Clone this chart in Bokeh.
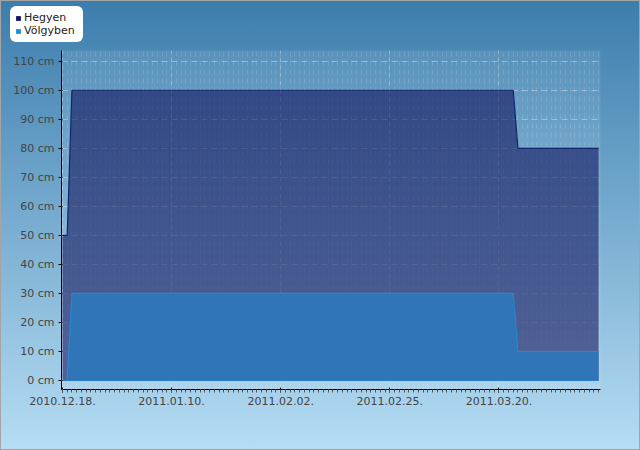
import pandas as pd
from bokeh.plotting import figure
from bokeh.models import (FixedTicker, DatetimeTickFormatter, PrintfTickFormatter,
                          Legend, LegendItem, Range1d, ColumnDataSource, BoxAnnotation, Grid)
from bokeh.embed import file_html
from bokeh.resources import INLINE

# ---- data ----
dates = ["2010-12-18", "2010-12-19", "2010-12-20", "2011-03-23", "2011-03-24", "2011-04-10"]
hegyen = [50, 50, 100, 100, 80, 80]
volgyben = [0, 0, 30, 30, 10, 10]
series_names = ["Hegyen", "Völgyben"]
tick_dates = ["2010-12-18", "2011-01-10", "2011-02-02", "2011-02-25", "2011-03-20"]
y_ticks = [0, 10, 20, 30, 40, 50, 60, 70, 80, 90, 100, 110]

x = pd.to_datetime(dates)
src = ColumnDataSource(dict(x=x, h=hegyen, v=volgyben, zero=[0] * len(dates)))

DAY = 86400000.0
t0 = pd.Timestamp(dates[0]).value / 1e6
major = [pd.Timestamp(d).value / 1e6 for d in tick_dates]
minor = [t0 + k * DAY for k in range(0, 114)]

# plot region (data units) and its pixel box inside the 640x450 canvas
XS, XE = t0 - 0.2 * DAY, t0 + 113.4 * DAY
YS, YE = -3.1, 113.7
PL, PR, PT, PB = 61, 600, 50, 389
W, H = 640, 450
kx = (XE - XS) / (PR - PL)
ky = (YE - YS) / (PB - PT)

p = figure(width=W, height=H, output_backend="svg", toolbar_location=None,
           x_axis_type="datetime",
           x_range=Range1d(XS - PL * kx, XE + (W - PR) * kx),
           y_range=Range1d(YS - (H - PB) * ky, YE + PT * ky),
           min_border=0)
p.title.visible = False

p.styles = {"background": "linear-gradient(to bottom, #3c7dad 0%, #b6ddf4 100%)",
            "box-shadow": "inset 0 0 0 1px #a4a4a4"}
p.border_fill_alpha = 0
p.background_fill_alpha = 0
p.outline_line_color = None

# plot-area tint
tint = BoxAnnotation(left=XS, right=XE, bottom=YS, top=YE, fill_color="white",
                     fill_alpha=0.09, line_color=None, level="underlay")
p.add_layout(tint)

# areas
p.varea(x="x", y1="zero", y2="h", source=src, fill_color="#0a0a55", fill_alpha=0.56)
p.line(x="x", y="h", source=src, line_color="#14246a", line_width=1.2)
p.varea(x="x", y1="zero", y2="v", source=src, fill_color="#2f76b8", fill_alpha=0.97)
p.line(x="x", y="v", source=src, line_color="#2a86d4", line_width=1.2)
p.line(x="x", y="zero", source=src, line_color="#2a80cc", line_width=1)

# axes
p.xaxis.ticker = FixedTicker(ticks=major, minor_ticks=minor)
fmt = "%Y.%m.%d."
p.xaxis.formatter = DatetimeTickFormatter(days=fmt, months=fmt, years=fmt, hours=fmt,
                                          minutes=fmt, seconds=fmt, milliseconds=fmt,
                                          microseconds=fmt, minsec=fmt, hourmin=fmt)
p.yaxis.ticker = FixedTicker(ticks=y_ticks, minor_ticks=[])
p.yaxis.formatter = PrintfTickFormatter(format="%d cm")
p.xaxis.fixed_location = YS
p.yaxis.fixed_location = XS
p.xaxis.bounds = (XS, XE)
p.yaxis.bounds = (YS, YE)

for ax in (p.xaxis[0], p.yaxis[0]):
    ax.axis_line_color = "black"
    ax.axis_line_width = 1
    ax.major_tick_line_color = "black"
    ax.major_label_text_font = "DejaVu Sans"
    ax.major_label_text_font_size = "11px"
    ax.major_label_text_color = "#444444"
p.xaxis.major_tick_in = 2
p.xaxis.major_tick_out = 3
p.xaxis.minor_tick_in = 0
p.xaxis.minor_tick_out = 3
p.xaxis.minor_tick_line_color = "#555555"
p.xaxis.major_label_standoff = 4
p.yaxis.major_tick_in = 1
p.yaxis.major_tick_out = 3
p.yaxis.minor_tick_line_color = None
p.yaxis.major_label_standoff = 4

# grids
has_cross = "cross_bounds" in Grid.properties()
if has_cross:
    p.xgrid.cross_bounds = (YS, YE)
    p.ygrid.cross_bounds = (XS, XE)
    p.xgrid.grid_line_color = "white"
    p.xgrid.grid_line_alpha = 0.3
    p.xgrid.grid_line_dash = "4 4"
    p.xgrid.minor_grid_line_color = "white"
    p.xgrid.minor_grid_line_alpha = 0.13
    p.xgrid.minor_grid_line_dash = "5 4"
    p.ygrid.grid_line_color = "white"
    p.ygrid.grid_line_alpha = 0.35
    p.ygrid.grid_line_dash = "6 4"
else:
    p.xgrid.visible = False
    p.ygrid.visible = False
    p.segment(x0=minor, x1=minor, y0=[YS] * len(minor), y1=[YE] * len(minor),
              line_color="white", line_alpha=0.13, line_dash="5 4", level="underlay")
    p.segment(x0=major, x1=major, y0=[YS] * len(major), y1=[YE] * len(major),
              line_color="white", line_alpha=0.3, line_dash="4 4", level="underlay")
    p.segment(x0=[XS] * len(y_ticks), x1=[XE] * len(y_ticks), y0=y_ticks, y1=y_ticks,
              line_color="white", line_alpha=0.35, line_dash="6 4", level="underlay")

# legend (swatch renderers hold one NaN row so that only the legend swatch is drawn)
nan = float("nan")
r1 = p.quad(left=[nan], right=[nan], top=[nan], bottom=[nan], fill_color="#10106e", line_color=None)
r2 = p.quad(left=[nan], right=[nan], top=[nan], bottom=[nan], fill_color="#1c8fdc", line_color=None)
leg = Legend(items=[LegendItem(label=series_names[0], renderers=[r1]),
                    LegendItem(label=series_names[1], renderers=[r2])],
             location=(10, 408))
leg.background_fill_color = "white"
leg.background_fill_alpha = 1
leg.border_line_color = "white"
leg.border_line_alpha = 0
leg.padding = 5
leg.margin = 0
leg.spacing = 0
leg.glyph_width = 6
leg.glyph_height = 6
leg.label_standoff = 3
leg.label_height = 13
leg.label_width = 54
leg.label_text_font = "DejaVu Sans"
leg.label_text_font_size = "11px"
leg.label_text_color = "#222222"
if "border_radius" in Legend.properties():
    leg.border_radius = 6
p.add_layout(leg, "center")

open("out.html", "w").write(file_html(p, INLINE))
